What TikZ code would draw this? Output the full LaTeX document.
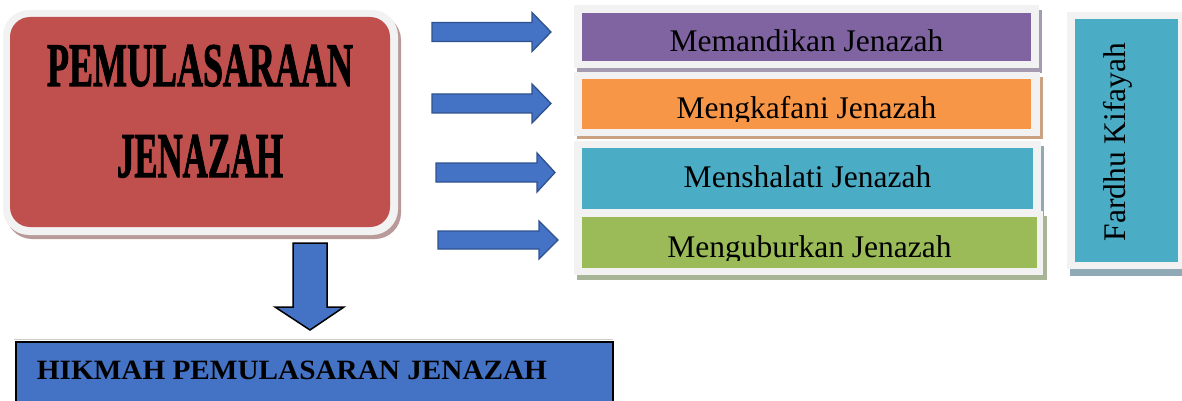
\documentclass[tikz,border=0pt]{standalone}
\usepackage{fontspec}
\setmainfont{Liberation Serif}
\newfontfamily\titlefont[FakeBold=2]{Liberation Serif}
\usepackage{graphicx}
\definecolor{mainred}{HTML}{C0504D}
\definecolor{redshadow}{HTML}{B99A9A}
\definecolor{framegrey}{HTML}{F2F2F2}
\definecolor{boxpurple}{HTML}{8064A2}
\definecolor{purpshadow}{HTML}{A59BB0}
\definecolor{boxorange}{HTML}{F79646}
\definecolor{orangeshadow}{HTML}{C9A283}
\definecolor{boxteal}{HTML}{4BACC6}
\definecolor{tealshadow}{HTML}{8FAAB5}
\definecolor{boxgreen}{HTML}{9BBB59}
\definecolor{greenshadow}{HTML}{A8B496}
\definecolor{arrowblue}{HTML}{4472C4}
\definecolor{arrowedge}{HTML}{2F528F}
\begin{document}
\begin{tikzpicture}[x=1pt,y=-1pt,
  inner/.style={inner sep=0pt, outer sep=0pt, draw=none},
  boxtext/.style={anchor=base, inner sep=0pt, font=\fontsize{31.5}{36}\selectfont},
  blockarrow/.style={fill=arrowblue, draw=arrowedge, line width=1.3pt, line join=miter},
  downarrow/.style={fill=arrowblue, draw=black, line width=1.5pt, line join=miter}]
\useasboundingbox (0,0) rectangle (1182,401);
% main box
\fill[redshadow, rounded corners=26pt] (6,14) rectangle (401,239);
\fill[framegrey, rounded corners=26pt] (3,10) rectangle (398,235);
\node[inner, fill=mainred, rounded corners=20pt, minimum width=380pt, minimum height=210pt] (main) at (200,122) {};
\node[anchor=base, inner sep=0pt] (t1) at (200,86) {\resizebox{306pt}{41pt}{\titlefont\bfseries PEMULASARAAN}};
\node[anchor=base, inner sep=0pt] (t2) at (200,177) {\resizebox{166pt}{42pt}{\titlefont\bfseries JENAZAH}};
% box 1
\fill[purpshadow] (577,10) rectangle (1042,73);
\fill[framegrey] (574,5) rectangle (1039,68);
\node[inner, fill=boxpurple, minimum width=449pt, minimum height=48pt] (b1) at (806.5,37) {};
\node[boxtext] (l1) at (b1.center |- 0,52) {Memandikan Jenazah};
% box 2
\fill[orangeshadow] (577,77) rectangle (1043,139);
\fill[framegrey] (574,72) rectangle (1040,136);
\node[inner, fill=boxorange, minimum width=449pt, minimum height=50pt] (b2) at (806.5,104) {};
\begin{scope}
\clip (582,79) rectangle (1031,122);
\node[boxtext] (l2) at (806.5,118) {Mengkafani Jenazah};
\end{scope}
% box 3
\fill[tealshadow] (577,146) rectangle (1044,221);
\fill[framegrey] (574,141) rectangle (1041,216);
\node[inner, fill=boxteal, minimum width=451pt, minimum height=61pt] (b3) at (807.5,178.5) {};
\node[boxtext] (l3) at (807.5,187) {Menshalati Jenazah};
% box 4
\fill[greenshadow] (577,216) rectangle (1047,280);
\fill[framegrey] (574,211) rectangle (1043,275);
\node[inner, fill=boxgreen, minimum width=455pt, minimum height=51pt] (b4) at (809.5,242.5) {};
\begin{scope}
\clip (582,217) rectangle (1037,260);
\node[boxtext] (l4) at (809.5,257) {Menguburkan Jenazah};
\end{scope}
% Fardhu Kifayah
\fill[tealshadow] (1070,17) rectangle (1182,276);
\fill[framegrey] (1067,12) rectangle (1182,269);
\node[inner, fill=boxteal, minimum width=103pt, minimum height=243pt] (fk) at (1126.5,140.5) {};
\node[boxtext, rotate=90] (fkt) at (1125,142) {Fardhu Kifayah};
% right block arrows
\draw[blockarrow] (432,22.5) -- (532,22.5) -- (532,12.5) -- (551,32) -- (532,51.5) -- (532,41.5) -- (432,41.5) -- cycle;
\draw[blockarrow] (432,94) -- (532,94) -- (532,84) -- (551,103.5) -- (532,123) -- (532,113) -- (432,113) -- cycle;
\draw[blockarrow] (436,163) -- (537,163) -- (537,153) -- (555,172.5) -- (537,192) -- (537,182) -- (436,182) -- cycle;
\draw[blockarrow] (438,231) -- (539,231) -- (539,221) -- (558,240) -- (539,259) -- (539,249) -- (438,249) -- cycle;
% down arrow
\draw[downarrow] (293,243) -- (327,243) -- (327,307) -- (344,307) -- (310,330) -- (275,307) -- (293,307) -- cycle;
% bottom box
\draw[gray!40, line width=1pt] (14,339.5) -- (613,339.5);
\node[fill=arrowblue, draw=black, line width=2pt, inner sep=0pt, minimum width=597pt, minimum height=70pt, anchor=north west] (hk) at (15,341) {};
\node[anchor=base, inner sep=0pt] (hkt) at (292,379) {\resizebox{510pt}{18.5pt}{\bfseries HIKMAH PEMULASARAN JENAZAH}};
\end{tikzpicture}
\end{document}
